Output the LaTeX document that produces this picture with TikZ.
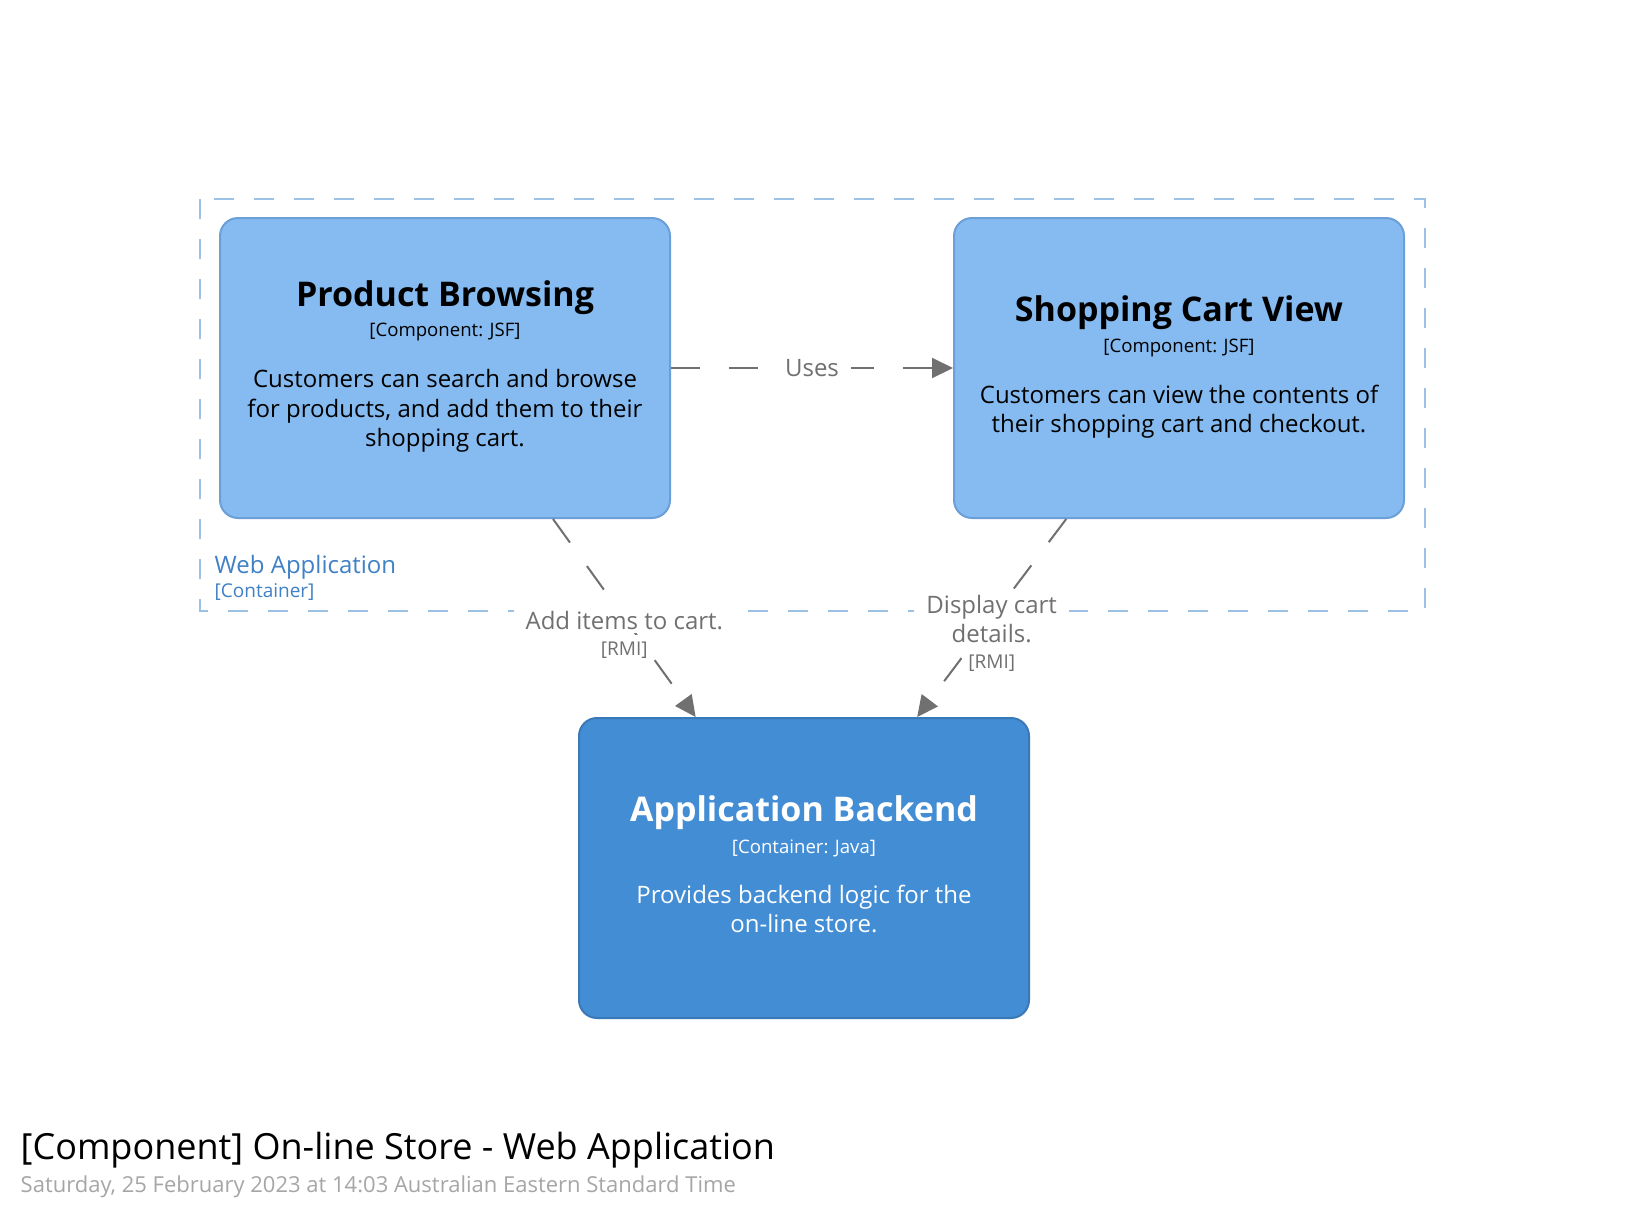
\documentclass[tikz,border=0pt]{standalone}
\usepackage{fontspec}
\setmainfont{Open Sans}
\usetikzlibrary{arrows.meta,positioning}
\definecolor{compfill}{HTML}{85BBF0}
\definecolor{compline}{HTML}{6C9FD8}
\definecolor{contfill}{HTML}{438DD5}
\definecolor{contline}{HTML}{3A79B8}
\definecolor{relgray}{HTML}{707070}
\definecolor{bndline}{HTML}{9CC0E6}
\definecolor{bndtext}{HTML}{3F80C6}
\definecolor{dategray}{HTML}{A6A6A6}
\begin{document}
\begin{tikzpicture}[x=1pt,y=-1pt,
    comp/.style={draw=compline,fill=compfill,line width=2pt,rounded corners=18pt,
        minimum width=450pt,minimum height=300pt,inner sep=0pt},
    cont/.style={comp,draw=contline,fill=contfill},
    elname/.style={font=\fontsize{34}{40}\selectfont\bfseries,inner sep=0pt},
    elmeta/.style={font=\fontsize{18.6}{22}\selectfont,inner sep=0pt},
    eldesc/.style={font=\fontsize{24}{29.5}\selectfont,align=center,inner sep=0pt},
    rel/.style={draw=relgray,line width=2pt,dash pattern=on 29pt off 29pt,
        -{Triangle[length=21pt,width=20pt]}},
    rellbl/.style={font=\fontsize{24}{29}\selectfont,text=relgray,fill=white,
        align=center,inner xsep=12pt,inner ysep=3pt},
    techlbl/.style={font=\fontsize{19}{22}\selectfont,text=relgray,fill=white,
        inner xsep=6pt,inner ysep=7pt},
    bnd/.style={draw=bndline,line width=2pt,dash pattern=on 20pt off 20pt}]
    \useasboundingbox[fill=white] (0,0) rectangle (1625,1219);
    % container boundary
    \draw[bnd] (200,199) rectangle (1425,611);
    \node[anchor=west,inner sep=0pt,text=bndtext,font=\fontsize{24}{28}\selectfont] (webapp) at (214.5,567) {Web Application};
    \node[anchor=west,inner sep=0pt,text=bndtext,font=\fontsize{19}{22}\selectfont] (webappt) at (214.5,592) {[Container]};
    % boxes
    \node[comp] (pb) at (445,368) {};
    \node[comp] (scv) at (1179,368) {};
    \node[cont] (ab) at (804,868) {};
    \node[elname] (pbname) at (445,298) {Product Browsing};
    \node[elmeta] (pbmeta) at (445,332) {[Component: JSF]};
    \node[eldesc] (pbdesc) at (445,411) {Customers can search and browse\\for products, and add them to their\\shopping cart.};
    \node[elname] (scvname) at (1179,313) {Shopping Cart View};
    \node[elmeta] (scvmeta) at (1179,348) {[Component: JSF]};
    \node[eldesc] (scvdesc) at (1179,411.5) {Customers can view the contents of\\their shopping cart and checkout.};
    \node[elname,text=white] (abname) at (804,813) {Application Backend};
    \node[elmeta,text=white] (abmeta) at (804,848) {[Container: Java]};
    \node[eldesc,text=white] (abdesc) at (804,909) {Provides backend logic for the\\on-line store.};
    % relationships
    \draw[rel] (pb) -- node[rellbl] (uses) {Uses} (scv);
    \draw[rel] (pb) -- node[rellbl,yshift=-2.7pt] (addlbl) {Add items to cart.} (ab);
    \node[techlbl,below=1pt of addlbl] (addtech) {[RMI]};
    \draw[rel] (scv) -- node[rellbl,yshift=-1.5pt] (displbl) {Display cart\\details.} (ab);
    \node[techlbl,below=0pt of displbl] (disptech) {[RMI]};
    % title
    \node[anchor=west,inner sep=0pt,font=\fontsize{36}{42}\selectfont] (title) at (20.5,1150) {[Component] On-line Store - Web Application};
    \node[anchor=west,inner sep=0pt,text=dategray,font=\fontsize{22}{27}\selectfont] (date) at (20.5,1187) {Saturday, 25 February 2023 at 14:03 Australian Eastern Standard Time};
\end{tikzpicture}
\end{document}
